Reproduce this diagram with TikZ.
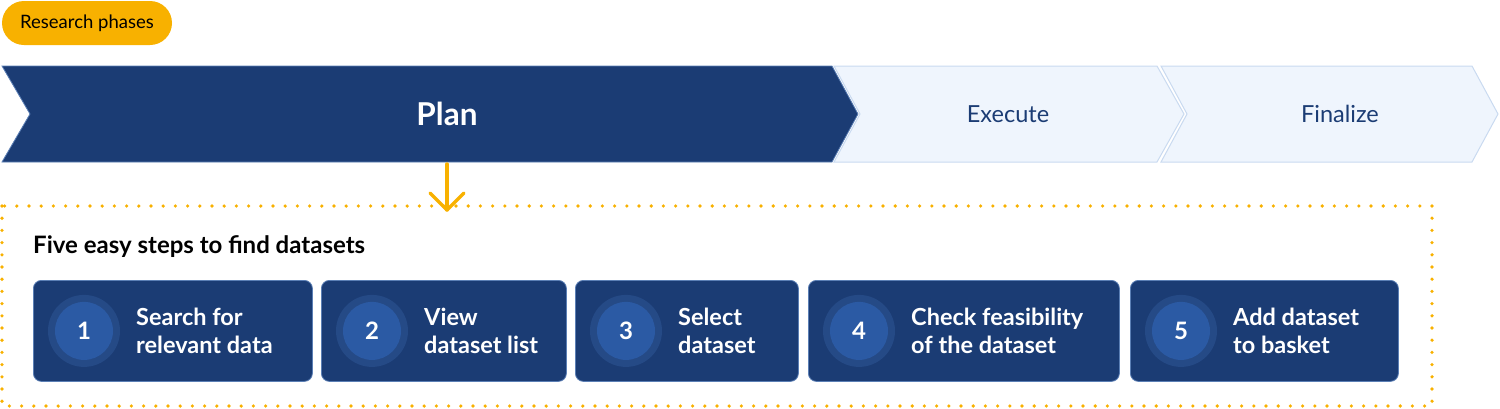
\documentclass[tikz,border=0pt]{standalone}
\usepackage{fontspec}
\setmainfont{Lato}
\usetikzlibrary{calc}
\definecolor{navy}{HTML}{1B3C74}
\definecolor{navyedge}{HTML}{5B7FB5}
\definecolor{halo}{HTML}{254A86}
\definecolor{disc}{HTML}{2B5AA4}
\definecolor{paleblue}{HTML}{EFF5FD}
\definecolor{paleedge}{HTML}{C9DAF0}
\definecolor{amber}{HTML}{F8B100}
\definecolor{darktext}{HTML}{1B3C74}
\tikzset{
  pill/.style={fill=amber, rounded corners=22pt, minimum width=170pt, minimum height=44pt, inner sep=0pt, font=\fontsize{18.5}{22}\selectfont, text=black},
  activephase/.style={fill=navy, draw=navyedge, line width=0.8pt},
  laterphase/.style={fill=paleblue, draw=paleedge, line width=1pt},
  stepbox/.style={fill=navy, draw=navyedge, line width=0.8pt, rounded corners=8pt, minimum height=101pt, anchor=north west, inner sep=0pt},
  halocircle/.style={circle, fill=halo, minimum size=72pt, inner sep=0pt},
  disccircle/.style={circle, fill=disc, minimum size=58pt, inner sep=0pt, text=white, font=\bfseries\fontsize{24}{26}\selectfont},
  steptext/.style={anchor=west, align=left, text=white, font=\bfseries\fontsize{23.5}{28}\selectfont, inner sep=0pt},
  dotframe/.style={draw=amber, line width=3.6pt, line cap=round, dash pattern=on 0pt off 12.2pt},
  arrowline/.style={draw=amber, line width=3.5pt, line cap=round, line join=round},
}
\begin{document}
\begin{tikzpicture}[x=1pt, y=-1pt]
\useasboundingbox (0,0) rectangle (1500,408);
% badge
\node[pill] (badge) at (87,23) {Research phases};
% phases
\draw[activephase] (2,66) -- (832,66) -- (858,114) -- (832,162) -- (2,162) -- (30,114) -- cycle;
\draw[laterphase] (834,66) -- (1157,66) -- (1184,114) -- (1157,162) -- (834,162) -- (860,114) -- cycle;
\draw[laterphase] (1161,66) -- (1472,66) -- (1498,114) -- (1472,162) -- (1161,162) -- (1187,114) -- cycle;
\node[text=white, font=\bfseries\fontsize{31.5}{36}\selectfont] (plan) at (447,114) {Plan};
\node[text=darktext, font=\fontsize{23.5}{27}\selectfont] (execute) at (1008,114) {Execute};
\node[text=darktext, font=\fontsize{23.5}{27}\selectfont] (finalize) at (1340,114) {Finalize};
% dotted frame
\draw[dotframe] (2,206) rectangle (1432,406);
% arrow
\coordinate (arrstart) at (447,164);
\coordinate (arrend) at (447,210);
\draw[arrowline] (arrstart) -- (arrend);
\draw[arrowline] ($(arrend)+(-17,-17)$) -- (arrend) -- ($(arrend)+(17,-17)$);
% title
\node[anchor=west, inner sep=0pt, font=\bfseries\fontsize{24}{28}\selectfont, text=black] (title) at (33,247) {Five easy steps to find datasets};
% steps
\node[stepbox, minimum width=279pt] (b1) at (33,280) {};
\node[stepbox, minimum width=245pt] (b2) at (321,280) {};
\node[stepbox, minimum width=223pt] (b3) at (575,280) {};
\node[stepbox, minimum width=311pt] (b4) at (808,280) {};
\node[stepbox, minimum width=268pt] (b5) at (1130,280) {};
\foreach \b/\n/\t in {b1/1/{Search for\\relevant data}, b2/2/{View\\dataset list}, b3/3/{Select\\dataset}, b4/4/{Check feasibility\\of the dataset}, b5/5/{Add dataset\\to basket}}{
  \node[halocircle] (h\n) at ($(\b.west)+(51,0)$) {};
  \node[disccircle] (c\n) at (h\n) {\n};
  \node[steptext] (t\n) at ($(\b.west)+(103,0)$) {\t};
}
\end{tikzpicture}
\end{document}
